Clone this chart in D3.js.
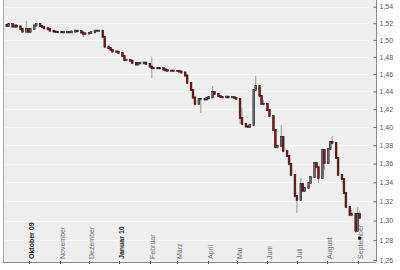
<!DOCTYPE html>
<html><head><meta charset="utf-8">
<script src="https://cdn.jsdelivr.net/npm/d3@7"></script>
<style>body{margin:0;background:#fff}svg{display:block}text{font-family:"Liberation Sans",Arial,sans-serif}</style>
</head><body><svg id="c" width="400" height="270"></svg>
<script>
// 2-business-day candles starting 2009-09-08
const startDate = "2009-09-08";
const closes = [1.5166,1.5190,1.5160,1.5172,1.5160,1.5130,1.5100,1.5130,1.5098,1.5130,
1.5172,1.5190,1.5166,1.5154,1.5139,1.5127,1.5110,1.5100,1.5094,1.5091,
1.5091,1.5091,1.5091,1.5091,1.5100,1.5110,1.5104,1.5088,1.5070,1.5077,
1.5082,1.5091,1.5110,1.5110,1.5110,1.5038,1.4920,1.4901,1.4881,1.4863,
1.4861,1.4845,1.4810,1.4763,1.4763,1.4755,1.4728,1.4711,1.4725,1.4725,
1.4732,1.4717,1.4687,1.4667,1.4667,1.4667,1.4667,1.4653,1.4643,1.4639,
1.4639,1.4635,1.4635,1.4629,1.4618,1.4583,1.4497,1.4417,1.4331,1.4258,
1.4314,1.4314,1.4309,1.4322,1.4333,1.4394,1.4371,1.4348,1.4337,1.4333,
1.4340,1.4333,1.4333,1.4328,1.4314,1.4100,1.4033,1.4006,1.4003,1.4022,
1.4417,1.4462,1.4348,1.4258,1.4258,1.4190,1.4123,1.3967,1.3780,1.3791,
1.3890,1.3736,1.3682,1.3596,1.3478,1.3255,1.3213,1.3382,1.3308,1.3340,
1.3393,1.3456,1.3606,1.3564,1.3446,1.3747,1.3606,1.3758,1.3835,1.3824,
1.3661,1.3478,1.3435,1.3287,1.3140,1.3057,1.3068,1.2893,1.3068,1.3026];
const opens = [1.5180,1.5166,1.5190,1.5160,1.5172,1.5160,1.5130,1.5100,1.5130,1.5098,
1.5130,1.5172,1.5190,1.5166,1.5154,1.5139,1.5127,1.5110,1.5100,1.5094,
1.5091,1.5091,1.5091,1.5091,1.5091,1.5100,1.5110,1.5104,1.5088,1.5070,
1.5077,1.5082,1.5091,1.5110,1.5110,1.5110,1.5038,1.4920,1.4901,1.4881,
1.4863,1.4861,1.4845,1.4810,1.4763,1.4763,1.4755,1.4728,1.4711,1.4725,
1.4725,1.4732,1.4717,1.4687,1.4667,1.4667,1.4667,1.4667,1.4653,1.4643,
1.4639,1.4639,1.4635,1.4635,1.4629,1.4618,1.4583,1.4497,1.4417,1.4331,
1.4258,1.4314,1.4314,1.4309,1.4322,1.4333,1.4394,1.4371,1.4348,1.4337,
1.4333,1.4340,1.4333,1.4333,1.4328,1.4314,1.4100,1.4033,1.4006,1.4003,
1.4022,1.4417,1.4462,1.4348,1.4258,1.4258,1.4190,1.4123,1.3967,1.3780,
1.3791,1.3890,1.3736,1.3682,1.3596,1.3478,1.3255,1.3213,1.3382,1.3308,
1.3340,1.3393,1.3456,1.3606,1.3564,1.3446,1.3747,1.3606,1.3758,1.3835,
1.3824,1.3661,1.3478,1.3435,1.3287,1.3140,1.3057,1.3068,1.2893,1.3068];
const highs = [1.5195,1.5205,1.5200,1.5185,1.5182,1.5170,1.5140,1.5230,1.5140,1.5142,
1.5185,1.5202,1.5198,1.5175,1.5165,1.5150,1.5138,1.5120,1.5112,1.5105,
1.5104,1.5102,1.5103,1.5102,1.5112,1.5122,1.5120,1.5115,1.5098,1.5090,
1.5094,1.5102,1.5122,1.5122,1.5124,1.5118,1.5045,1.4935,1.4912,1.4895,
1.4876,1.4872,1.4856,1.4820,1.4778,1.4775,1.4765,1.4740,1.4738,1.4745,
1.4748,1.4745,1.4728,1.4802,1.4680,1.4682,1.4680,1.4678,1.4664,1.4652,
1.4650,1.4650,1.4646,1.4645,1.4640,1.4630,1.4592,1.4505,1.4425,1.4340,
1.4325,1.4328,1.4325,1.4335,1.4345,1.4462,1.4405,1.4380,1.4355,1.4348,
1.4352,1.4350,1.4345,1.4342,1.4338,1.4320,1.4213,1.4045,1.4018,1.4035,
1.4430,1.4577,1.4470,1.4360,1.4303,1.4268,1.4200,1.4130,1.3975,1.3810,
1.4022,1.3900,1.3748,1.3692,1.3605,1.3485,1.3265,1.3446,1.3395,1.3352,
1.3405,1.3468,1.3618,1.3620,1.3575,1.3760,1.3758,1.3770,1.3848,1.3901,
1.3835,1.3670,1.3490,1.3445,1.3298,1.3150,1.3110,1.3075,1.3140,1.3100];
const lows = [1.5150,1.5155,1.5148,1.5150,1.5145,1.5118,1.5088,1.5090,1.5085,1.5088,
1.5120,1.5162,1.5155,1.5142,1.5128,1.5115,1.5098,1.5088,1.5082,1.5080,
1.5080,1.5078,1.5080,1.5079,1.5084,1.5090,1.5092,1.5076,1.5035,1.5060,
1.5066,1.5072,1.5082,1.5098,1.5098,1.5025,1.4900,1.4885,1.4868,1.4850,
1.4848,1.4832,1.4798,1.4748,1.4750,1.4742,1.4715,1.4698,1.4700,1.4712,
1.4712,1.4705,1.4675,1.4551,1.4655,1.4655,1.4654,1.4642,1.4632,1.4628,
1.4628,1.4624,1.4624,1.4618,1.4606,1.4570,1.4485,1.4405,1.4318,1.4235,
1.4250,1.4156,1.4298,1.4298,1.4312,1.4325,1.4360,1.4338,1.4325,1.4322,
1.4322,1.4322,1.4322,1.4316,1.4300,1.4033,1.4020,1.3995,1.3992,1.3992,
1.4012,1.4405,1.4335,1.4245,1.4240,1.4178,1.4110,1.3955,1.3765,1.3760,
1.3780,1.3722,1.3670,1.3582,1.3465,1.3240,1.3078,1.3205,1.3295,1.3298,
1.3330,1.3382,1.3445,1.3550,1.3393,1.3435,1.3531,1.3595,1.3745,1.3812,
1.3650,1.3465,1.3422,1.3275,1.3128,1.3045,1.3045,1.2872,1.2885,1.3015];
const yTicks = [1.26,1.28,1.30,1.32,1.34,1.36,1.38,1.40,1.42,1.44,1.46,1.48,1.50,1.52,1.54];
const monthLabels = ["Oktober 09","November","Dezember","Januar 10","Februar","März","April","Mai","Juni","Juli","August","September"];
const monthDates = ["2009-10-01","2009-11-01","2009-12-01","2010-01-01","2010-02-01","2010-03-01","2010-04-01","2010-05-01","2010-06-01","2010-07-01","2010-08-01","2010-09-01"];
const boldLabels = ["Oktober 09","Januar 10"];

const parse = d3.utcParse("%Y-%m-%d");
// business days from start, every second one marks a candle
const bdays = d3.utcDay.range(parse(startDate), parse("2010-12-31")).filter(d => d.getUTCDay() !== 0 && d.getUTCDay() !== 6);
const data = closes.map((c, i) => ({date: bdays[i*2], o: opens[i], h: highs[i], l: lows[i], c}));

const L = 3, R = 376, T = 0, B = 262;
const x = d3.scaleUtc().domain([parse("2009-09-01"), parse("2010-09-15")]).range([-0.1, 371.4]);
const y = d3.scaleLog().domain([1.26, 1.54]).range([260, 6.7]);

const svg = d3.select("#c");
svg.append("rect").attr("x", L).attr("y", T).attr("width", R - L).attr("height", B - T).attr("fill", "#eeeeee");
// grid
svg.append("g").selectAll("line").data(yTicks).join("line")
  .attr("x1", L).attr("x2", R).attr("y1", d => Math.round(y(d)) + 0.5).attr("y2", d => Math.round(y(d)) + 0.5)
  .attr("stroke", "#f8f8f8").attr("stroke-width", 1);

// left border and bottom axis
svg.append("line").attr("x1", L + 0.5).attr("x2", L + 0.5).attr("y1", T).attr("y2", B).attr("stroke", "#a8a8a8");
svg.append("line").attr("x1", L).attr("x2", R).attr("y1", B + 0.5).attr("y2", B + 0.5).attr("stroke", "#8a8a8a");

// right axis
const yAxis = d3.axisRight(y).tickValues(yTicks).tickSize(0).tickFormat(d => d3.format(".2f")(d).replace(".", ","));
const ga = svg.append("g").attr("transform", `translate(${R + 0.5},0)`).call(yAxis);
ga.select(".domain").attr("stroke", "#8a8a8a").attr("d", `M0,${T}V${B}`);
ga.selectAll("text").attr("x", 3).attr("font-size", 7).attr("fill", "#555").attr("font-family", "Liberation Sans, Arial, sans-serif");
ga.selectAll(".tick").append("line").attr("x1", -3).attr("x2", 0).attr("stroke", "#666");

// x month ticks
const months = monthDates.map((d, i) => ({date: parse(d), label: monthLabels[i]}));
const gx = svg.append("g");
gx.selectAll("line").data(months).join("line")
  .attr("x1", d => Math.round(x(d.date)) + 0.5).attr("x2", d => Math.round(x(d.date)) + 0.5)
  .attr("y1", B - 1).attr("y2", B + 2).attr("stroke", "#555");
gx.selectAll("text").data(months).join("text")
  .attr("transform", d => `translate(${x(d.date) + 5},${B - 3}) rotate(-90)`)
  .attr("font-size", 7)
  .attr("fill", d => boldLabels.includes(d.label) ? "#222" : "#6a6a6a")
  .attr("font-weight", d => boldLabels.includes(d.label) ? "bold" : "normal")
  .text(d => d.label);

// candles
const gc = svg.append("g");
gc.selectAll("line").data(data).join("line")
  .attr("x1", d => x(d.date)).attr("x2", d => x(d.date))
  .attr("y1", d => y(d.h)).attr("y2", d => y(d.l))
  .attr("stroke", "#808080").attr("stroke-width", 0.8);
gc.selectAll("rect").data(data).join("rect")
  .attr("x", d => x(d.date) - 0.9).attr("width", 1.8)
  .attr("y", d => y(Math.max(d.o, d.c)) - 0.6)
  .attr("height", d => Math.abs(y(d.o) - y(d.c)) + 1.2)
  .attr("fill", d => d.c < d.o ? "#9a1010" : "#6a6a6a")
  .attr("stroke", "#111").attr("stroke-width", 0.5);

// last price marker
const last = data[data.length - 1];
svg.append("rect").attr("x", x(last.date) - 1.5).attr("y", y(1.282) - 1.5).attr("width", 3).attr("height", 3).attr("fill", "#111");
</script></body></html>
